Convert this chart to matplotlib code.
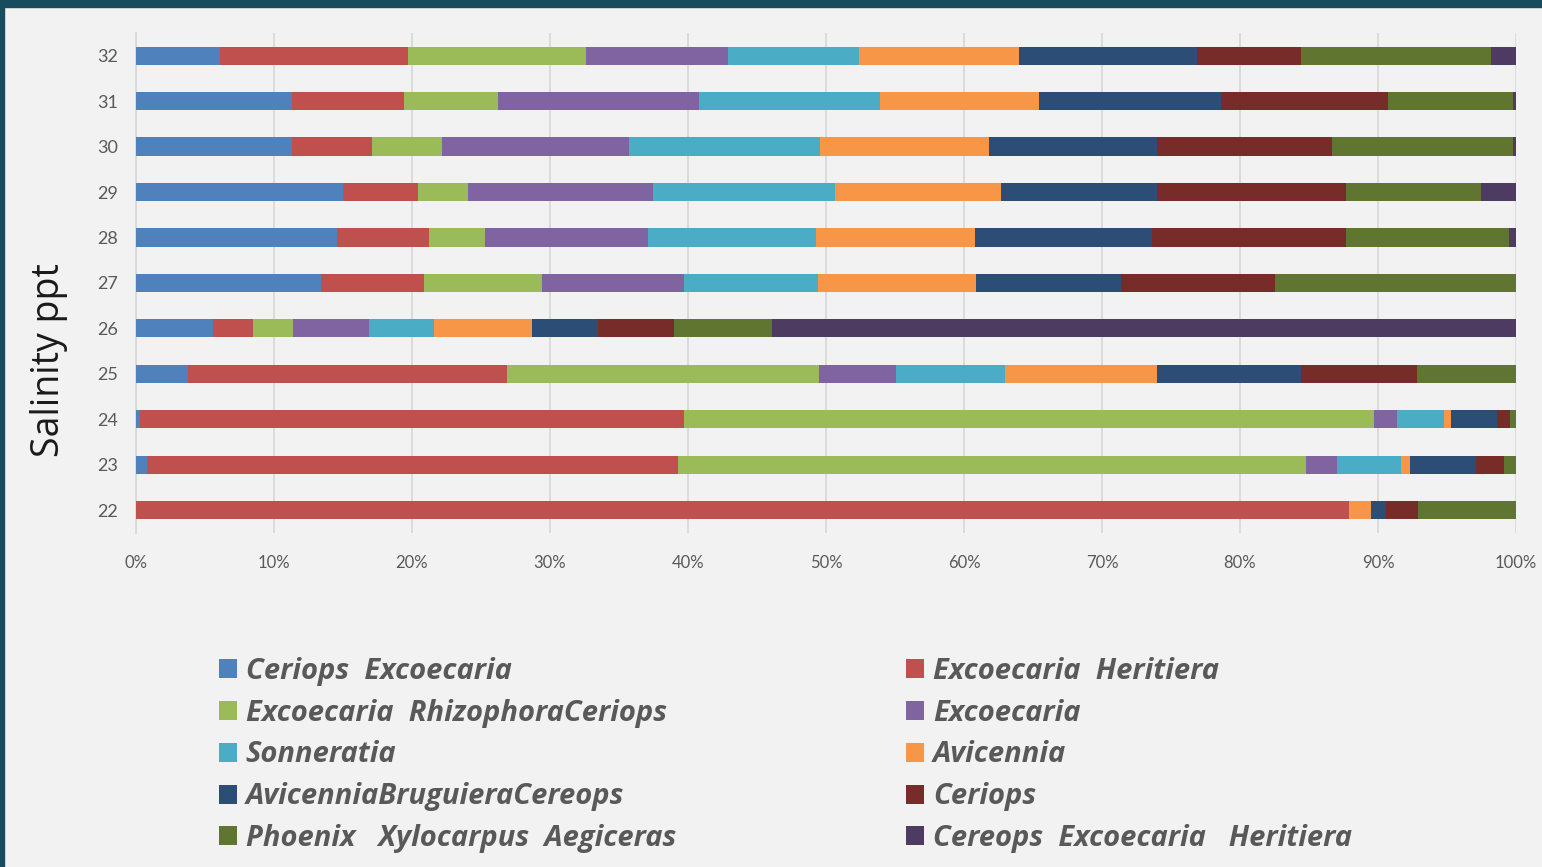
import numpy as np
import matplotlib.pyplot as plt
from matplotlib.patches import Rectangle


salinity = [22, 23, 24, 25, 26, 27, 28, 29, 30, 31, 32]

species = ["Ceriops  Excoecaria", "Excoecaria  Heritiera",
           "Excoecaria  RhizophoraCeriops", "Excoecaria",
           "Sonneratia", "Avicennia",
           "AvicenniaBruguieraCereops", "Ceriops",
           "Phoenix   Xylocarpus  Aegiceras", "Cereops  Excoecaria   Heritiera"]

# share of each group (%) at salinity 22 ... 32 ppt
ceriops_excoecaria = [0, 0.8, 0.3, 3.8, 5.6, 13.4, 14.6, 15.0, 11.3, 11.3, 6.1]
excoecaria_heritiera = [87.9, 38.5, 39.4, 23.1, 2.9, 7.5, 6.6, 5.4, 5.8, 8.1, 13.6]
excoecaria_rhizophora = [0, 45.5, 50.0, 22.6, 2.9, 8.5, 4.1, 3.6, 5.1, 6.8, 12.9]
excoecaria = [0, 2.2, 1.7, 5.6, 5.5, 10.3, 11.8, 13.4, 13.5, 14.6, 10.3]
sonneratia = [0, 4.7, 3.4, 7.9, 4.7, 9.7, 12.2, 13.2, 13.9, 13.1, 9.5]
avicennia = [1.6, 0.6, 0.5, 11.0, 7.1, 11.5, 11.5, 12.0, 12.2, 11.5, 11.6]
avicennia_bruguiera = [1.1, 4.8, 3.3, 10.4, 4.8, 10.5, 12.8, 11.3, 12.2, 13.2, 12.9]
ceriops = [2.3, 2.0, 1.0, 8.4, 5.5, 11.1, 14.1, 13.7, 12.7, 12.1, 7.5]
phoenix_xylocarpus = [7.1, 0.9, 0.4, 7.2, 7.1, 17.5, 11.8, 9.8, 13.1, 9.1, 13.8]
cereops_excoecaria = [0, 0, 0, 0, 53.9, 0, 0.5, 2.5, 0.2, 0.2, 1.8]

colors = ["#4F81BD", "#C0504D", "#9BBB59", "#8064A2", "#4BACC6",
          "#F79646", "#2C4D75", "#772C2A", "#5F7530", "#4D3B62"]

data = np.array([ceriops_excoecaria, excoecaria_heritiera, excoecaria_rhizophora,
                 excoecaria, sonneratia, avicennia, avicennia_bruguiera, ceriops,
                 phoenix_xylocarpus, cereops_excoecaria])
# 100% stacked
data = data / data.sum(axis=0) * 100

fig = plt.figure(figsize=(15.42, 8.67), dpi=100, facecolor="#f2f2f2")
ax = fig.add_axes([136/1542, 1-532.75/867, 1380/1542, 499.75/867])
ax.set_facecolor("#f2f2f2")

# dark slide frame along top and left edge
fig.patches.append(Rectangle((0, 1-7/867), 1, 7/867, transform=fig.transFigure,
                             color="#184b5e", zorder=10))
fig.patches.append(Rectangle((0, 0), 4/1542, 1, transform=fig.transFigure,
                             color="#184b5e", zorder=10))

left = np.zeros(len(salinity))
handles = []
for i in range(len(species)):
    b = ax.barh(salinity, data[i], left=left, height=0.4, color=colors[i],
                label=species[i], zorder=3)
    handles.append(b)
    left = left + data[i]

ax.set_xlim(0, 100)
ax.set_ylim(21.5, 32.5)
ax.set_yticks(salinity)
ax.set_xticks(np.arange(0, 101, 10))
ax.set_xticklabels([str(v) + "%" for v in range(0, 101, 10)])
ax.tick_params(axis="both", length=0, colors="#595959")
ax.tick_params(axis="x", labelsize=12, pad=16)
ax.tick_params(axis="y", labelsize=13, pad=13)
for lab in ax.get_xticklabels() + ax.get_yticklabels():
    lab.set_fontfamily("Lato")

ax.grid(axis="x", color="#d9d9d9", linewidth=1.3, zorder=0)
for s in ["top", "right", "bottom"]:
    ax.spines[s].set_visible(False)
ax.spines["left"].set_color("#d9d9d9")
ax.spines["left"].set_linewidth(1.3)

ax.set_ylabel("Salinity ppt", fontsize=27, family="Open Sans", color="#1a1a1a")
ax.yaxis.set_label_coords(-0.049, 0.346)

# legend split in two columns
leg_font = {"family": "Open Sans", "style": "italic", "weight": "bold", "size": 21}
leg_kw = dict(loc="center left", frameon=False, prop=leg_font, labelcolor="#595959",
              handlelength=0.62, handleheight=0.62, handletextpad=0.3,
              labelspacing=0.44, borderpad=0, borderaxespad=0)
col1 = [handles[i] for i in range(0, 10, 2)]
col2 = [handles[i] for i in range(1, 10, 2)]
leg1 = fig.legend(col1, [species[i] for i in range(0, 10, 2)],
                  bbox_to_anchor=(219/1542, 1-755/867), **leg_kw)
leg2 = fig.legend(col2, [species[i] for i in range(1, 10, 2)],
                  bbox_to_anchor=(906/1542, 1-755/867), **leg_kw)

fig.savefig("out.png", dpi=100, facecolor=fig.get_facecolor())
plt.close()
